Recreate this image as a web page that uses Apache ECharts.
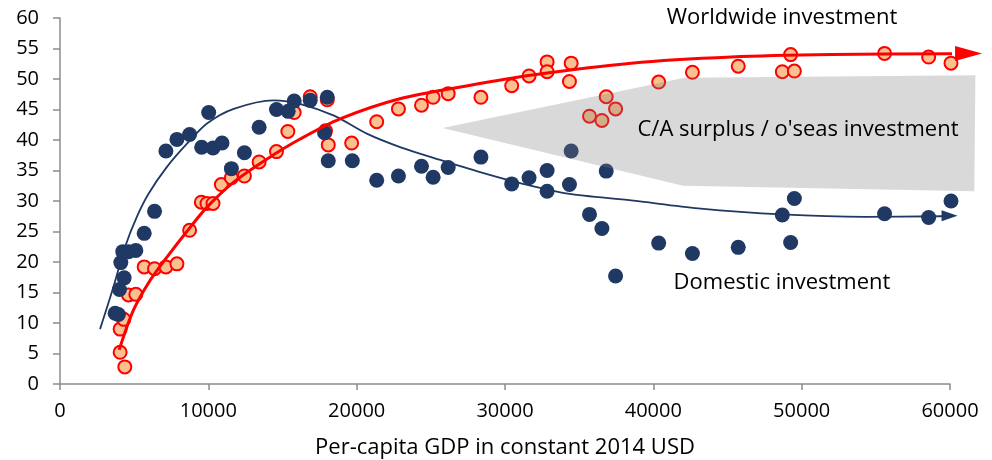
<!DOCTYPE html>
<html>
<head>
<meta charset="utf-8">
<script src="https://cdn.jsdelivr.net/npm/echarts@6/dist/echarts.min.js"></script>
<style>
  html, body { margin: 0; padding: 0; background: #fff; }
  #main { width: 992px; height: 460px; }
</style>
</head>
<body>
<div id="main"></div>
<script>
// 散点数据 [人均GDP, 投资占比]
var domesticPts = [[3716,11.6],[3940,11.4],[4010,15.5],[4324,17.4],[4100,19.9],[4234,21.7],[4617,21.7],[5113,21.9],[5676,24.7],[6374,28.3],[7140,38.2],[7883,40.1],[8739,40.9],[9550,38.8],[10023,44.5],[10315,38.7],[10923,39.5],[11554,35.3],[12432,37.9],[13424,42.1],[14595,45.0],[15383,44.7],[15788,46.4],[16869,46.5],[18018,47.0],[17838,41.2],[18086,36.6],[19707,36.6],[21351,33.4],[22816,34.1],[24370,35.7],[25155,33.9],[26169,35.5],[28378,37.2],[30452,32.8],[31622,33.8],[32838,35.0],[32838,31.6],[34345,32.7],[34460,38.2],[35697,27.8],[36534,25.5],[36824,34.9],[37455,17.7],[40360,23.1],[42635,21.4],[45724,22.4],[48697,27.7],[49257,23.2],[49508,30.4],[55588,27.9],[58561,27.3],[60068,30.0]];
var worldwidePts = [[4054,5.2],[4369,2.8],[4054,9.0],[4302,10.6],[4617,14.6],[5113,14.7],[5676,19.2],[6374,18.9],[7140,19.2],[7883,19.7],[8739,25.2],[9527,29.8],[9910,29.6],[10315,29.6],[10878,32.7],[11554,33.8],[12432,34.1],[13424,36.4],[14595,38.1],[15360,41.4],[15788,44.5],[16869,47.1],[18018,46.6],[17900,41.5],[18086,39.2],[19662,39.5],[21351,43.0],[22816,45.1],[24370,45.7],[25155,47.0],[26169,47.6],[28378,47.0],[30452,48.9],[31622,50.5],[32838,52.8],[32838,51.2],[34460,52.6],[34345,49.6],[35697,43.9],[36534,43.2],[36824,47.1],[37455,45.1],[40360,49.5],[42635,51.1],[45724,52.1],[48697,51.2],[49508,51.3],[49257,54.0],[55588,54.2],[58561,53.6],[60068,52.6]];
// 趋势线
var domesticTrend = [[2700,9.0],[3600,15.9],[4390,22.5],[5180,27.4],[5970,31.2],[7210,35.6],[8560,39.4],[9910,42.7],[11710,45.1],[14410,46.5],[16220,45.9],[18470,44.0],[20720,41.0],[22970,38.8],[25680,36.7],[28380,34.7],[31080,32.9],[34230,31.2],[38510,30.1],[43020,28.8],[48650,27.8],[54280,27.4],[59500,27.5]];
var worldwideTrend = [[3990,5.6],[4950,12.1],[6080,17.0],[7210,20.8],[8780,25.7],[9910,29.0],[11710,33.1],[13960,36.9],[16220,40.2],[18920,43.5],[22970,46.8],[27480,48.9],[31980,50.7],[38510,52.6],[45270,53.6],[52030,54.0],[60500,54.15]];
var domesticArrow = [[59970,27.6]];
var worldwideArrow = [[61250,54.2]];
// 经常账户顺差区域
var surplusArea = [[25790,41.95],[42116,50.2],[61710,50.6],[61640,31.6],[42000,32.5]];
var xTicks = [0, 10000, 20000, 30000, 40000, 50000, 60000];

var FONT = 'Open Sans';
var NAVY = '#1f3864';
var RED = '#ff0000';

var chart = echarts.init(document.getElementById('main'), null, {renderer: 'canvas'});
var option = {
  animation: false,
  textStyle: { fontFamily: FONT },
  grid: { left: 60, right: 42, top: 18, bottom: 76, containLabel: false, outerBoundsMode: 'none' },
  xAxis: {
    type: 'value', min: xTicks[0], max: xTicks[xTicks.length - 1], interval: 10000,
    name: 'Per-capita GDP in constant 2014 USD', nameLocation: 'middle', nameGap: 53,
    nameTextStyle: { fontSize: 22, color: '#000', fontFamily: FONT },
    splitLine: { show: false },
    axisLine: { lineStyle: { color: '#8c8c8c', width: 1.5 } },
    axisTick: { show: true, length: 6, lineStyle: { color: '#8c8c8c', width: 1.5 } },
    axisLabel: { fontSize: 20, color: '#000', margin: 17, fontFamily: FONT,
      formatter: function (v) { return String(v); } }
  },
  yAxis: {
    type: 'value', min: 0, max: 60, interval: 5,
    splitLine: { show: false },
    axisLine: { show: true, lineStyle: { color: '#8c8c8c', width: 1.5 } },
    axisTick: { show: true, length: 7, lineStyle: { color: '#8c8c8c', width: 1.5 } },
    axisLabel: { fontSize: 20, color: '#000', margin: 21, fontFamily: FONT }
  },
  series: [
    {
      name: 'Worldwide', type: 'scatter', data: worldwidePts, symbolSize: 13, z: 2, clip: false,
      itemStyle: { color: '#fac090', borderColor: RED, borderWidth: 2, opacity: 1 }
    },
    {
      name: 'Domestic', type: 'scatter', data: domesticPts, symbolSize: 15, z: 3, clip: false,
      itemStyle: { color: NAVY, opacity: 1 }
    },
    {
      type: 'line', data: domesticTrend, smooth: 0.3, showSymbol: false, symbol: 'none', clip: false, z: 4,
      lineStyle: { color: NAVY, width: 1.8 }
    },
    {
      type: 'line', data: worldwideTrend, smooth: 0.3, showSymbol: false, symbol: 'none', clip: false, z: 4,
      lineStyle: { color: RED, width: 3 }
    },
    {
      type: 'scatter', data: domesticArrow, symbol: 'triangle', symbolRotate: -90, symbolSize: [11, 16], clip: false, z: 4,
      itemStyle: { color: NAVY, opacity: 1 }
    },
    {
      type: 'scatter', data: worldwideArrow, symbol: 'triangle', symbolRotate: -90, symbolSize: [15, 27], clip: false, z: 4,
      itemStyle: { color: RED, opacity: 1 }
    },
    {
      type: 'custom', z: 5, clip: false, data: [0],
      renderItem: function (params, api) {
        return {
          type: 'polygon',
          shape: { points: surplusArea.map(function (p) { return api.coord(p); }) },
          style: { fill: 'rgba(124,124,124,0.29)' }
        };
      }
    }
  ],
  graphic: [
    { type: 'text', x: 782, y: 18, z: 10,
      style: { text: 'Worldwide investment', fontSize: 22, fontFamily: FONT, fill: '#000', textAlign: 'center', textVerticalAlign: 'middle' } },
    { type: 'text', x: 798, y: 130, z: 10,
      style: { text: "C/A surplus / o'seas investment", fontSize: 22, fontFamily: FONT, fill: '#000', textAlign: 'center', textVerticalAlign: 'middle' } },
    { type: 'text', x: 782, y: 283, z: 10,
      style: { text: 'Domestic investment', fontSize: 22, fontFamily: FONT, fill: '#000', textAlign: 'center', textVerticalAlign: 'middle' } }
  ]
};
chart.setOption(option);
</script>
</body>
</html>
